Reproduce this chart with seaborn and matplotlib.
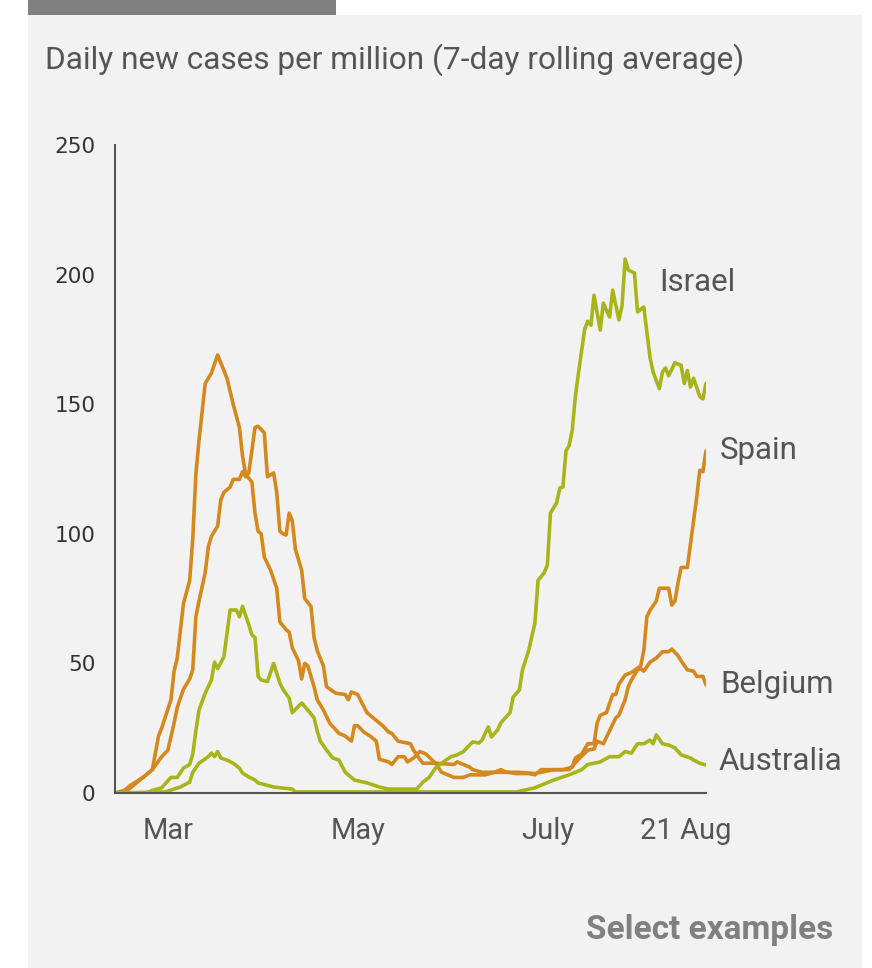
import matplotlib
matplotlib.use("Agg")
import matplotlib.pyplot as plt
import matplotlib.transforms as mtransforms
from matplotlib.patches import Rectangle
import seaborn as sns
import pandas as pd

# days since 13 Feb 2020 (cases per million, 7-day avg)
spain_days = [0, 3, 5, 9, 12, 14, 15, 18, 19, 20, 22, 24, 25, 26, 27, 29, 31, 33, 35, 36,
              38, 40, 41, 42, 44, 45, 46, 47, 48, 50, 52, 53, 55, 56, 57, 59, 60, 61, 62, 64,
              65, 67, 69, 72, 74, 76, 77, 78, 80, 82, 84, 85, 88, 89, 91, 93, 94, 96, 98, 100,
              103, 105, 109, 112, 114, 119, 122, 124, 126, 129, 133, 135, 137, 141, 144, 147, 148, 150, 152, 154,
              155, 156, 158, 160, 161, 162, 164, 166, 169, 170, 171, 172, 174, 175, 178, 179, 180, 181, 182, 184,
              186, 187, 188, 189, 190]
spain_vals = [0, 1, 3, 6, 9, 22, 25, 36, 47, 52, 73, 82, 98, 123, 136, 158, 162, 169, 163, 160,
              150, 141, 130, 123, 120, 108, 101, 100, 91, 86, 79, 66, 63, 62, 56, 51, 44, 50, 49, 41,
              36, 32, 27, 23, 22, 20, 26, 26, 23.5, 22, 20, 13, 12, 11, 14, 14, 12, 13.5, 16, 15,
              11.5, 8, 6, 6, 7, 7, 8, 9, 8, 7.5, 7.5, 7, 9, 9, 9, 10, 13.5, 15, 19, 19,
              27, 30, 31, 38, 38, 42, 45.5, 46.5, 49, 55, 68, 70.5, 74, 79, 79, 72.5, 74, 81, 87, 87,
              105, 114, 124.5, 124, 132]

belgium_days = [0, 4, 7, 10, 12, 15, 17, 19, 20, 22, 24, 25, 26, 27, 29, 30, 31, 33, 34, 35,
                37, 38, 40, 41, 42, 43, 44, 45, 46, 48, 49, 51, 52, 53, 54, 55, 56, 57, 58, 60,
                61, 63, 64, 65, 67, 68, 71, 74, 75, 76, 78, 81, 83, 85, 86, 88, 89, 91, 95, 96,
                98, 99, 103, 109, 110, 114, 115, 118, 125, 130, 135, 141, 146, 149, 152, 154, 155, 157, 159, 161,
                162, 164, 165, 166, 168, 169, 170, 172, 174, 176, 178, 179, 181, 182, 184, 186, 187, 189, 190]
belgium_vals = [0, 1, 4, 7, 9, 14, 16.5, 27, 33, 40, 44, 47.5, 68, 74, 85, 95, 99, 103, 113, 116,
                118, 121, 121, 124, 122, 123.5, 132, 141, 141.5, 139, 122, 123.5, 116, 101, 100, 99.5, 108, 105, 94, 86,
                75, 72, 60, 55, 49, 41, 38.5, 38, 36, 39, 38, 31, 29, 27, 26, 23.5, 23, 20, 19, 16.5,
                13, 11.5, 11.5, 11, 12, 10, 9, 8, 8, 8, 7.5, 9, 9, 13, 16.5, 17, 20, 19, 24, 29,
                30, 36, 41, 43.5, 47.5, 48, 47, 50.5, 52, 54.5, 54.5, 55.5, 53, 51, 47.5, 47, 45, 45, 41.7]

israel_days = [0, 10, 12, 15, 18, 20, 22, 24, 25, 26, 27, 29, 31, 32, 33, 35, 37, 39, 40, 41,
               43, 44, 45, 46, 47, 49, 51, 53, 54, 56, 57, 60, 62, 64, 65, 66, 68, 70, 72, 74,
               77, 81, 85, 88, 97, 99, 101, 103, 105, 108, 110, 112, 114, 115, 117, 118, 120, 121, 123, 124,
               127, 128, 130, 131, 133, 135, 136, 138, 139, 140, 142, 143, 144, 145, 146, 147, 148, 149, 151, 152,
               153, 154, 156, 157, 159, 160, 162, 163, 164, 165, 167, 168, 170, 172, 173, 175, 176, 177, 178, 180,
               182, 183, 184, 185, 186, 188, 189, 190]
israel_vals = [0, 0, 1, 2, 6, 6, 9.6, 11, 15, 24, 32, 38.5, 43.6, 50.5, 48, 52.5, 70.6, 70.6, 68, 72,
               65, 61, 60, 45, 43.6, 43, 50, 42.4, 40, 36.6, 31, 34.7, 32, 29, 24, 20, 16.6, 13.5, 12.7, 8,
               5, 3.9, 2.3, 1.5, 1.5, 4.2, 6, 9.6, 11.5, 14, 14.7, 16, 18.5, 19.7, 19.3, 20.4, 25.5, 21.6, 24.3, 27,
               31, 37, 39.7, 47.5, 55, 65.6, 82, 85, 88, 108, 112, 117.7, 118, 132, 134, 140, 153, 162, 179, 182,
               180.5, 192, 178.6, 189, 183.6, 194, 182.5, 188, 206, 201.8, 200.6, 185.6, 187.5, 168, 162.4, 156, 162.4, 164, 161, 166,
               165, 158, 163, 156.6, 160, 153, 152, 158]

australia_days = [0, 16, 21, 24, 25, 27, 30, 31, 32, 33, 34, 36, 38, 40, 41, 43, 45, 46, 51, 57,
                  58, 129, 135, 137, 141, 146, 150, 152, 156, 159, 162, 164, 166, 168, 170, 172, 173, 174, 176, 178,
                  180, 182, 185, 186, 188, 190]
australia_vals = [0, 0.4, 2.3, 4.2, 8, 11.5, 14, 15.4, 14, 16, 13.5, 12.7, 11.5, 9.6, 7.7, 6.2, 5, 3.9, 2.3, 1.5,
                  0.4, 0.4, 2, 3, 5, 7, 9, 11, 12, 14, 14, 16, 15.4, 19, 19, 20.4, 19, 22.4, 19, 18.5,
                  17.4, 14.7, 13.5, 12.7, 11.5, 10.8]

countries = ["Spain", "Belgium", "Israel", "Australia"]
label_vals = [132, 42, 197, 12]

start = pd.Timestamp("2020-02-13")
end = pd.Timestamp("2020-08-21")

ORANGE = "#d4891e"
GREEN = "#a8b51a"
palette = {"Spain": ORANGE, "Belgium": ORANGE, "Israel": GREEN, "Australia": GREEN}

frames = []
for name, days, vals in [("Spain", spain_days, spain_vals),
                         ("Belgium", belgium_days, belgium_vals),
                         ("Israel", israel_days, israel_vals),
                         ("Australia", australia_days, australia_vals)]:
    frames.append(pd.DataFrame({
        "date": start + pd.to_timedelta(days, unit="D"),
        "cases": vals,
        "country": name,
    }))
df = pd.concat(frames, ignore_index=True)

sns.set_theme(style="white")
plt.rcParams["font.family"] = ["Roboto", "DejaVu Sans"]

fig = plt.figure(figsize=(8.72, 9.68), dpi=100, facecolor="white")
# grey panel and the bar on top (behind the axes)
fig.patches.append(Rectangle((28 / 872, 0), (862 - 28) / 872, 1 - 15 / 968,
                             transform=fig.transFigure, facecolor="#f2f2f2", edgecolor="none", zorder=-2))
fig.patches.append(Rectangle((28 / 872, 1 - 15 / 968), (336 - 28) / 872, 15 / 968,
                             transform=fig.transFigure, facecolor="#808080", edgecolor="none", zorder=-2))

ax = fig.add_axes([115 / 872, 1 - 793 / 968, (706 - 115) / 872, 648 / 968])
ax.set_facecolor("none")
ax.set_zorder(1)

sns.lineplot(data=df, x="date", y="cases", hue="country", units="country", estimator=None,
             palette=palette, linewidth=2.6, legend=False, ax=ax, sort=False)

ax.set_xlim(start, end)
ax.set_ylim(0, 250)
ax.set_xlabel("")
ax.set_ylabel("")

sns.despine(ax=ax)
for side in ["left", "bottom"]:
    ax.spines[side].set_color("#555555")
    ax.spines[side].set_linewidth(1.5)

ax.set_yticks([0, 50, 100, 150, 200, 250])
ax.set_yticklabels(["0", "50", "100", "150", "200", "250"], family="DejaVu Sans")
ax.tick_params(axis="y", length=0, pad=14, labelsize=15.5, labelcolor="#333333")

xticks = [pd.Timestamp("2020-03-01"), pd.Timestamp("2020-05-01"),
          pd.Timestamp("2020-07-01"), end]
ax.set_xticks(xticks)
ax.set_xticklabels(["Mar", "May", "July", "21 Aug"])
ax.tick_params(axis="x", length=0, pad=17, labelsize=21, labelcolor="#555555")
last = ax.get_xticklabels()[-1]
last.set_transform(last.get_transform() + mtransforms.ScaledTranslation(-0.2, 0, fig.dpi_scale_trans))

# direct labels at line ends
label_x = [end + pd.Timedelta(days=4.5), end + pd.Timedelta(days=4.5),
           pd.Timestamp("2020-08-06"), end + pd.Timedelta(days=4)]
for name, lx, ly in zip(countries, label_x, label_vals):
    ax.text(lx, ly, name, fontsize=22.5, color="#555555", va="center", ha="left", clip_on=False)

fig.text(45 / 872, 1 - 60 / 968, "Daily new cases per million (7-day rolling average)",
         fontsize=22.8, color="#555555", va="center", ha="left")
fig.text(833 / 872, 1 - 930 / 968, "Select examples", fontsize=24, color="#808080",
         fontweight="bold", va="center", ha="right")

fig.savefig("out.png", dpi=100, facecolor=fig.get_facecolor())
